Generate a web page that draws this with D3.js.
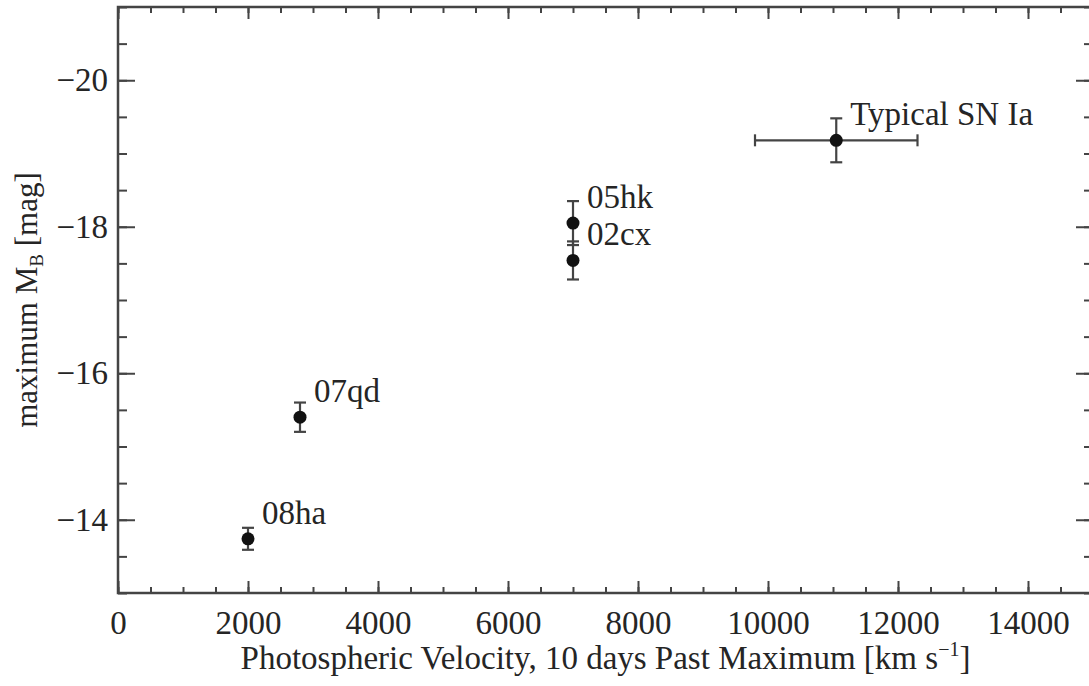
<!DOCTYPE html>
<html>
<head>
<meta charset="utf-8">
<script src="https://cdn.jsdelivr.net/npm/d3@7"></script>
<style>
  body { margin: 0; background: #fff; }
  svg { display: block; }
</style>
</head>
<body>
<svg id="chart" width="1089" height="686"></svg>
<script>
// Supernovae: photospheric velocity 10 days after maximum vs. peak B magnitude
const names = ["08ha", "07qd", "02cx", "05hk", "Typical SN Ia"];
const velocity = [2000, 2800, 7000, 7000, 11050];
const velocityErr = [0, 0, 0, 0, 1250];
const magnitude = [-13.74, -15.40, -17.54, -18.05, -19.18];
const magnitudeErr = [0.15, 0.2, 0.26, 0.3, 0.3];

const xMajorTicks = [0, 2000, 4000, 6000, 8000, 10000, 12000, 14000];
const yMajorTicks = [-14, -16, -18, -20];
const xDomain = [0, 15000];
const yDomain = [-13, -21];

const FONT = "Liberation Serif";
const FS = 33;
const svg = d3.select("#chart");
const plot = { left: 118, right: 1093, top: 7, bottom: 593 };
const axisColor = "#444";
const textColor = "#252525";

const x = d3.scaleLinear().domain(xDomain).range([plot.left, plot.right]);
const y = d3.scaleLinear().domain(yDomain).range([plot.bottom, plot.top]);

const xMinor = d3.range(xDomain[0], xDomain[1] + 1, 500);
const yMinor = d3.range(-13, -21.01, -0.5);

function styleAxis(g) {
  g.attr("font-family", FONT).attr("font-size", FS);
  g.selectAll("path").remove();
  g.selectAll("line").attr("stroke", axisColor).attr("stroke-width", 2);
  g.selectAll("text").attr("fill", textColor);
}

// Minor ticks on all four sides
svg.append("g").attr("transform", `translate(0,${plot.bottom})`)
  .call(d3.axisBottom(x).tickValues(xMinor).tickSize(-6).tickFormat(""))
  .call(styleAxis);
svg.append("g").attr("transform", `translate(0,${plot.top})`)
  .call(d3.axisTop(x).tickValues(xMinor).tickSize(-6).tickFormat(""))
  .call(styleAxis);
svg.append("g").attr("transform", `translate(${plot.left},0)`)
  .call(d3.axisLeft(y).tickValues(yMinor).tickSize(-9).tickFormat(""))
  .call(styleAxis);
svg.append("g").attr("transform", `translate(${plot.right},0)`)
  .call(d3.axisRight(y).tickValues(yMinor).tickSize(-9).tickFormat(""))
  .call(styleAxis);

// Major ticks with labels
const fmtY = d => "\u2212" + Math.abs(d);
svg.append("g").attr("transform", `translate(0,${plot.bottom})`)
  .call(d3.axisBottom(x).tickValues(xMajorTicks).tickSizeInner(-12).tickSizeOuter(0)
    .tickPadding(18).tickFormat(d3.format("d")))
  .call(styleAxis);
svg.append("g").attr("transform", `translate(0,${plot.top})`)
  .call(d3.axisTop(x).tickValues(xMajorTicks).tickSize(-12).tickFormat(""))
  .call(styleAxis);
svg.append("g").attr("transform", `translate(${plot.left},0)`)
  .call(d3.axisLeft(y).tickValues(yMajorTicks).tickSizeInner(-17).tickSizeOuter(0)
    .tickPadding(10).tickFormat(fmtY))
  .call(styleAxis);
svg.append("g").attr("transform", `translate(${plot.right},0)`)
  .call(d3.axisRight(y).tickValues(yMajorTicks).tickSize(-17).tickFormat(""))
  .call(styleAxis);

// Frame
svg.append("rect")
  .attr("x", plot.left).attr("y", plot.top)
  .attr("width", plot.right - plot.left).attr("height", plot.bottom - plot.top)
  .attr("fill", "none").attr("stroke", axisColor).attr("stroke-width", 2.5);

// Axis titles
const xt = svg.append("text")
  .attr("x", (plot.left + plot.right) / 2).attr("y", 669)
  .attr("text-anchor", "middle")
  .attr("font-family", FONT).attr("font-size", FS).attr("fill", textColor);
xt.append("tspan").text("Photospheric Velocity, 10 days Past Maximum [km s");
xt.append("tspan").attr("dy", -13).attr("font-size", 20).text("\u22121");
xt.append("tspan").attr("dy", 13).text("]");

const yt = svg.append("text")
  .attr("transform", `translate(37,${(plot.top + plot.bottom) / 2}) rotate(-90)`)
  .attr("text-anchor", "middle")
  .attr("font-family", FONT).attr("font-size", 31).attr("fill", textColor);
yt.append("tspan").text("maximum M");
yt.append("tspan").attr("dy", 6).attr("font-size", 19).text("B");
yt.append("tspan").attr("dy", -6).text(" [mag]");

// Data marks
const data = names.map((n, i) => ({
  name: n, v: velocity[i], ve: velocityErr[i], m: magnitude[i], me: magnitudeErr[i]
}));

const marks = svg.append("g");
const cap = 6;
data.forEach(d => {
  const g = marks.append("g").attr("stroke", axisColor).attr("stroke-width", 2.2);
  const cx = x(d.v), cy = y(d.m);
  const y0 = y(d.m - d.me), y1 = y(d.m + d.me);
  g.append("line").attr("x1", cx).attr("x2", cx).attr("y1", y0).attr("y2", y1);
  g.append("line").attr("x1", cx - cap).attr("x2", cx + cap).attr("y1", y0).attr("y2", y0);
  g.append("line").attr("x1", cx - cap).attr("x2", cx + cap).attr("y1", y1).attr("y2", y1);
  if (d.ve > 0) {
    const x0 = x(d.v - d.ve), x1 = x(d.v + d.ve);
    g.append("line").attr("x1", x0).attr("x2", x1).attr("y1", cy).attr("y2", cy);
    g.append("line").attr("x1", x0).attr("x2", x0).attr("y1", cy - cap).attr("y2", cy + cap);
    g.append("line").attr("x1", x1).attr("x2", x1).attr("y1", cy - cap).attr("y2", cy + cap);
  }
  marks.append("circle").attr("cx", cx).attr("cy", cy).attr("r", 6.5).attr("fill", "#111");
  marks.append("text").attr("x", cx + 14).attr("y", cy - 15)
    .attr("font-family", FONT).attr("font-size", FS).attr("fill", textColor).text(d.name);
});
</script>
</body>
</html>
